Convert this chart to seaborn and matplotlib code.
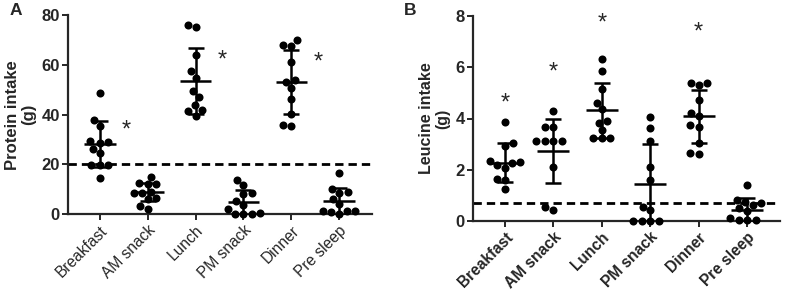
import numpy as np
import pandas as pd
import seaborn as sns
import matplotlib.pyplot as plt

meals = ["Breakfast", "AM snack", "Lunch", "PM snack", "Dinner", "Pre sleep"]

# Panel A - protein intake (g), one value per participant
protein_breakfast = [48.5, 37.7, 35.3, 29.3, 28.9, 28.6, 26.3, 24.6, 19.9, 19.9, 19.9, 14.5]
protein_am_snack = [15.0, 12.5, 12.0, 12.0, 9.0, 8.7, 8.5, 6.5, 6.0, 3.3, 2.2]
protein_lunch = [76.0, 75.0, 63.9, 57.4, 54.6, 49.3, 46.9, 44.0, 41.9, 41.3, 39.6]
protein_pm_snack = [13.8, 11.8, 8.5, 8.0, 5.5, 3.8, 2.0, 0.5, 0.3, 0.3, 0.3]
protein_dinner = [70.0, 67.9, 67.6, 61.3, 54.0, 53.3, 50.7, 46.3, 40.3, 36.0, 35.3]
protein_pre_sleep = [16.5, 10.0, 9.0, 8.5, 6.0, 4.0, 1.5, 1.3, 1.2, 1.0, 0.0]
protein_mean = [28.2, 8.8, 53.6, 4.8, 53.1, 5.2]
protein_sd = [9.4, 3.6, 13.2, 5.0, 12.7, 5.3]
protein_target = 20

# Panel B - leucine intake (g)
leucine_breakfast = [3.88, 3.03, 2.93, 2.36, 2.3, 2.25, 2.19, 2.06, 1.63, 1.6, 1.24]
leucine_am_snack = [4.31, 3.66, 3.66, 3.14, 3.14, 3.14, 3.14, 2.12, 0.53, 0.43]
leucine_lunch = [6.32, 5.87, 5.14, 4.62, 4.36, 3.92, 3.84, 3.55, 3.23, 3.23, 3.23]
leucine_pm_snack = [4.07, 3.62, 3.12, 2.12, 1.6, 0.56, 0.43, 0.0, 0.0, 0.0, 0.0]
leucine_dinner = [5.4, 5.4, 5.29, 4.73, 4.21, 4.08, 3.74, 3.68, 3.06, 2.67, 2.62]
leucine_pre_sleep = [1.42, 0.82, 0.75, 0.7, 0.62, 0.5, 0.4, 0.1, 0.05, 0.05, 0.05]
leucine_mean = [2.28, 2.73, 4.32, 1.43, 4.09, 0.44]
leucine_sd = [0.76, 1.25, 1.07, 1.58, 1.03, 0.46]
leucine_target = 0.7


def long_table(groups):
    rows = []
    for meal, vals in zip(meals, groups):
        for v in vals:
            rows.append({"Meal": meal, "Value": v})
    return pd.DataFrame(rows)


df_protein = long_table([protein_breakfast, protein_am_snack, protein_lunch,
                         protein_pm_snack, protein_dinner, protein_pre_sleep])
df_leucine = long_table([leucine_breakfast, leucine_am_snack, leucine_lunch,
                         leucine_pm_snack, leucine_dinner, leucine_pre_sleep])

sns.set_style("ticks")
plt.rcParams["font.family"] = ["Liberation Sans", "DejaVu Sans"]
plt.rcParams["axes.linewidth"] = 1.6
plt.rcParams["xtick.major.width"] = 1.4
plt.rcParams["ytick.major.width"] = 1.4
plt.rcParams["xtick.major.size"] = 4
plt.rcParams["ytick.major.size"] = 4

fig = plt.figure(figsize=(7.85, 2.95), dpi=100)
ax_a = fig.add_axes([68.3 / 785, 1 - 214.3 / 295, 303.4 / 785, 199.3 / 295])
ax_b = fig.add_axes([473 / 785, 1 - 221 / 295, 307 / 785, 205 / 295])


def draw_panel(ax, df, means, sds, target, ylim, yticks, ylabel, bold_x, ylabel_size):
    sns.swarmplot(data=df, x="Meal", y="Value", order=meals, color="black",
                  size=5.8, ax=ax, clip_on=False, zorder=3)
    xs = np.arange(len(meals))
    ax.errorbar(xs, means, yerr=sds, fmt="none", ecolor="black",
                elinewidth=1.8, capsize=5.6, capthick=1.8, zorder=4)
    ax.hlines(means, xs - 0.33, xs + 0.33, color="black", lw=1.8, zorder=4)
    ax.axhline(target, color="black", lw=2.0, linestyle=(0, (3.0, 1.8)), zorder=2)
    ax.set_xlim(-0.66, 5.68)
    ax.set_ylim(*ylim)
    ax.set_yticks(yticks)
    ax.set_xlabel("")
    ax.set_ylabel(ylabel, fontsize=ylabel_size, fontweight="bold", linespacing=1.1, labelpad=4)
    ax.tick_params(axis="y", labelsize=12, pad=2)
    ax.tick_params(axis="x", labelsize=11.2, pad=2)
    for t in ax.get_yticklabels():
        t.set_fontweight("bold")
    plt.setp(ax.get_xticklabels(), rotation=45, ha="right", rotation_mode="anchor")
    if bold_x:
        for t in ax.get_xticklabels():
            t.set_fontweight("bold")
    sns.despine(ax=ax)


draw_panel(ax_a, df_protein, protein_mean, protein_sd, protein_target,
           (0, 80), [0, 20, 40, 60, 80], "Protein intake\n(g)", False, 12)
draw_panel(ax_b, df_leucine, leucine_mean, leucine_sd, leucine_target,
           (0, 8), [0, 2, 4, 6, 8], "Leucine intake\n(g)", True, 11.5)

# significance markers
for x, y in [(0.56, 33.6), (2.56, 61.6), (4.56, 61.0)]:
    ax_a.text(x, y, "*", fontsize=17, ha="center", va="center")
for x, y in [(0, 4.57), (1, 5.78), (2, 7.7), (4, 7.34)]:
    ax_b.text(x, y, "*", fontsize=17, ha="center", va="center")

fig.text(10 / 785, 1 - 3 / 295, "A", fontsize=12.5, fontweight="bold", va="top")
fig.text(404 / 785, 1 - 3 / 295, "B", fontsize=12.5, fontweight="bold", va="top")

plt.savefig("out.png", dpi=100)
